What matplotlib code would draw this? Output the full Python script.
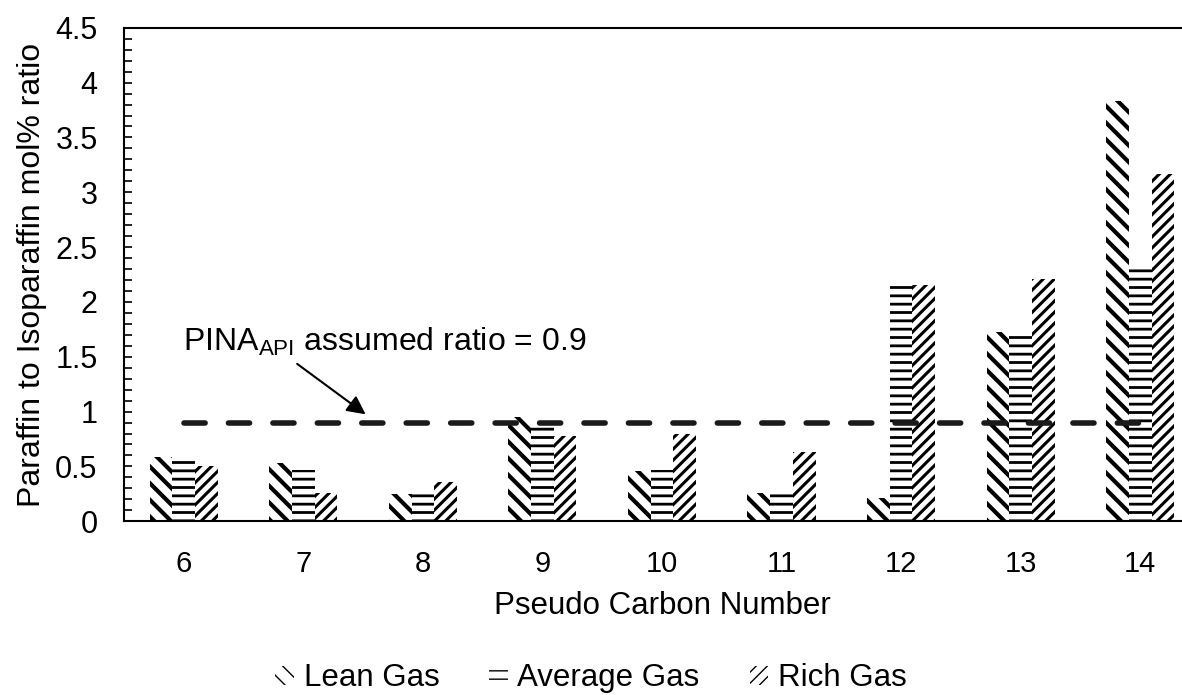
import matplotlib
matplotlib.use("Agg")
import matplotlib.pyplot as plt
import numpy as np

plt.rcParams['font.family'] = ['Liberation Sans', 'DejaVu Sans']

# values
carbon_numbers = [6, 7, 8, 9, 10, 11, 12, 13, 14]
lean_gas = [0.59, 0.53, 0.25, 0.95, 0.46, 0.26, 0.21, 1.73, 3.83]
average_gas = [0.55, 0.47, 0.26, 0.88, 0.47, 0.26, 2.16, 1.71, 2.30]
rich_gas = [0.50, 0.26, 0.36, 0.78, 0.80, 0.63, 2.15, 2.21, 3.17]
assumed_ratio = 0.9

fig = plt.figure(figsize=(11.82, 6.95), dpi=100)
ax = fig.add_axes([0.1049, 0.250, 0.9103, 0.710])

x = np.array(carbon_numbers, dtype=float)
w = 0.19
with plt.rc_context({'hatch.linewidth': 3.0}):
    ax.bar(x - w, lean_gas, w, color='white', edgecolor='black', linewidth=0,
           hatch='\\\\', label='Lean Gas')
with plt.rc_context({'hatch.linewidth': 2.0}):
    ax.bar(x, average_gas, w, color='white', edgecolor='black', linewidth=0,
           hatch='--', label='Average Gas')
with plt.rc_context({'hatch.linewidth': 2.2}):
    ax.bar(x + w, rich_gas, w, color='white', edgecolor='black', linewidth=0,
           hatch='///', label='Rich Gas')

ax.plot([6.0, 14.0], [assumed_ratio, assumed_ratio], color='#1a1a1a', lw=4,
        dashes=(3.8, 4.2), dash_capstyle='round')

ax.annotate('', xy=(7.54, 0.96), xytext=(6.93, 1.45),
            arrowprops=dict(arrowstyle='-|>', color='black', lw=1.5, mutation_scale=28))
ax.text(5.99, 1.56, r'PINA$_{\mathregular{API}}$ assumed ratio = 0.9', fontsize=23)

ax.set_xlim(5.5, 14.5)
ax.set_ylim(0, 4.5)
ax.set_xticks(carbon_numbers)
ax.set_xticklabels([str(c) for c in carbon_numbers])
ax.set_yticks(np.arange(0, 4.51, 0.5))
ax.set_yticklabels(['0', '0.5', '1', '1.5', '2', '2.5', '3', '3.5', '4', '4.5'])
ax.set_yticks(np.arange(0, 4.51, 0.1), minor=True)
ax.tick_params(axis='y', which='both', direction='in', length=6, width=1.2, labelsize=22, pad=19)
ax.tick_params(axis='x', length=0, labelsize=21, pad=21)
ax.spines['right'].set_visible(False)
for s in ['left', 'top', 'bottom']:
    ax.spines[s].set_linewidth(1.5)

ax.set_xlabel('Pseudo Carbon Number', fontsize=22.5, labelpad=9)
ax.set_ylabel('Paraffin to Isoparaffin mol% ratio', fontsize=23, labelpad=6)

fig.legend(loc='lower center', bbox_to_anchor=(0.50, 0.0), ncol=3, frameon=False, fontsize=22.5,
           handlelength=0.6, handleheight=0.6, handletextpad=0.3, columnspacing=1.6,
           borderpad=0.05, borderaxespad=0.0)

fig.savefig('out.png', dpi=100)
